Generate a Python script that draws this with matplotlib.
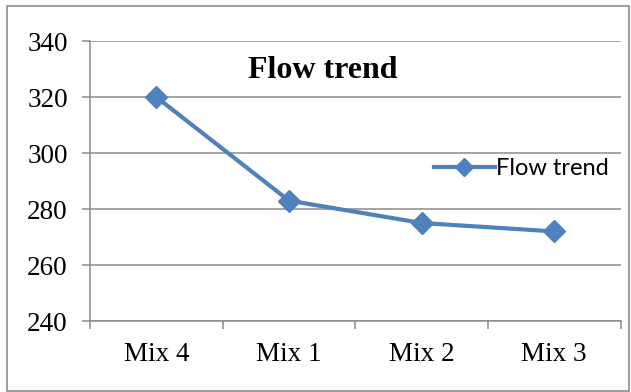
import matplotlib.pyplot as plt
from matplotlib.patches import Rectangle

# Flow values per mix
mixes = ['Mix 4', 'Mix 1', 'Mix 2', 'Mix 3']
flow = [320, 283, 275, 272]

blue = '#4F81BD'
grid_gray = '#8C8C8C'

fig = plt.figure(figsize=(6.31, 3.92), dpi=100)
ax = fig.add_axes([0.1426, 0.1811, 0.8408, 0.7143])

x = range(len(mixes))
ax.plot(x, flow, color=blue, linewidth=3, marker='D', markersize=11,
        label='Flow trend', zorder=3)

ax.set_xlim(-0.5, len(mixes) - 0.5)
ax.set_ylim(240, 340)
ax.set_yticks(range(240, 341, 20))
ax.yaxis.grid(True, color=grid_gray, linewidth=1.1)
ax.set_axisbelow(True)

# category boundaries carry the tick marks, labels sit at the centres
ax.set_xticks([i - 0.5 for i in range(len(mixes) + 1)])
ax.set_xticklabels([])
ax.set_xticks(list(x), minor=True)
ax.set_xticklabels(mixes, minor=True)
ax.tick_params(axis='x', which='minor', length=0, pad=15)
ax.tick_params(axis='x', which='major', length=6, color=grid_gray, width=1.1)
ax.tick_params(axis='y', length=6, color=grid_gray, width=1.1, pad=10)

for lab in ax.get_xticklabels(minor=True) + ax.get_yticklabels():
    lab.set_fontfamily('Liberation Serif')
    lab.set_fontsize(19.5)

for side in ['top', 'right']:
    ax.spines[side].set_visible(False)
for side in ['left', 'bottom']:
    ax.spines[side].set_color(grid_gray)
    ax.spines[side].set_linewidth(1.1)

ax.text(0.438, 0.895, 'Flow trend', transform=ax.transAxes, ha='center', va='center',
        fontfamily='Liberation Serif', fontweight='bold', fontsize=23)

ax.legend(loc='center left', bbox_to_anchor=(0.648, 0.543), frameon=False,
          prop={'family': 'Lato', 'size': 17}, handlelength=2.6,
          handletextpad=0.05, borderaxespad=0, borderpad=0, markerscale=0.85)

# outer chart border
fig.patches.append(Rectangle((7 / 631, 1 / 392), 622 / 631, 385 / 392,
                             transform=fig.transFigure, fill=False,
                             edgecolor='#8C8C8C', linewidth=1.2))

fig.savefig('out.png', dpi=100)
